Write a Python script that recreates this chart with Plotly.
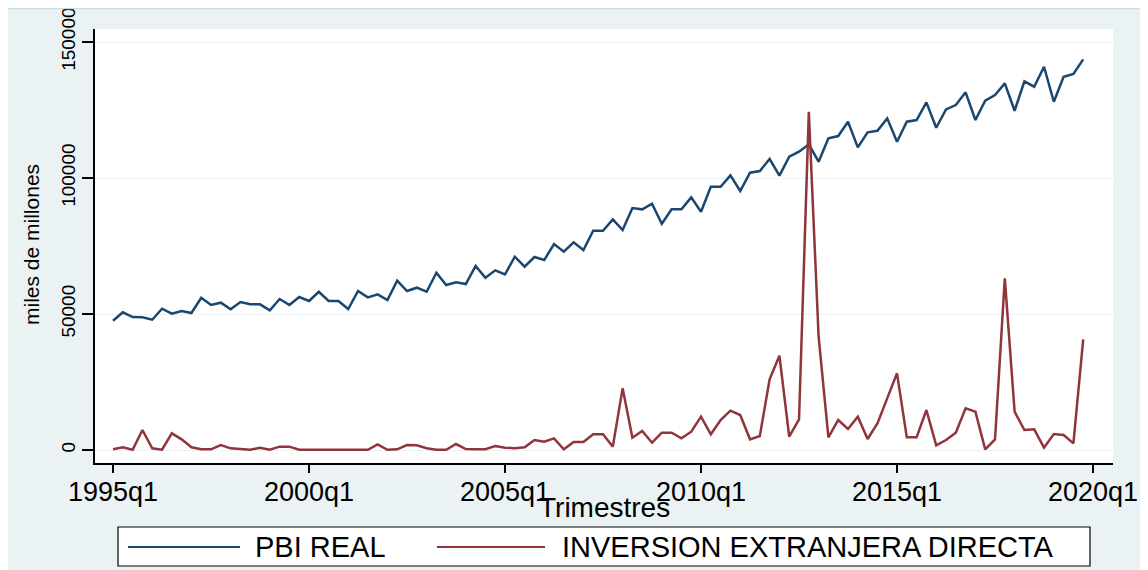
import plotly.graph_objects as go

# ---------------- data ----------------
years = list(range(1995, 2020))
quarters = [f"{y}q{q}" for y in years for q in (1, 2, 3, 4)]
tick_labels = ["1995q1", "2000q1", "2005q1", "2010q1", "2015q1", "2020q1"]
tick_index = [0, 20, 40, 60, 80, 100]
y_ticks = [0, 50000, 100000, 150000]

pbi_real = [
    47530, 50610, 48890, 48780, 47900, 51950, 50110, 51100, 50360, 55990,
    53300, 54150, 51720, 54400, 53560, 53560, 51350, 55510, 53300, 56240,
    54770, 58190, 54770, 54770, 51830, 58450, 56130, 57230, 55140, 62240,
    58450, 59670, 58190, 65180, 60650, 61650, 61020, 67640, 63350, 66050,
    64580, 71060, 67380, 70950, 69840, 75730, 72900, 76350, 73520, 80620,
    80620, 84800, 80870, 88960, 88470, 90540, 83190, 88470, 88470, 92880,
    87600, 96790, 96790, 100980, 95210, 101940, 102560, 106970, 100860, 107820,
    109660, 112380, 105980, 114580, 115430, 120690, 111270, 116790, 117370, 121930,
    113330, 120690, 121310, 127820, 118480, 125240, 126820, 131490, 121310, 128410,
    130500, 134800, 124730, 135540, 133570, 140900, 128040, 137230, 138220, 143620,
]

ied = [
    260, 990, 110, 7350, 620, 100, 6130, 3920, 990, 260,
    260, 1840, 620, 370, 100, 860, 100, 1220, 1220, 100,
    100, 100, 100, 370, 100, 100, 100, 2080, 100, 260,
    1840, 1720, 620, 100, 100, 2200, 370, 260, 260, 1470,
    860, 620, 980, 3680, 3060, 4290, 250, 2940, 2940, 5760,
    5760, 1230, 22670, 4530, 6980, 2690, 6370, 6370, 4290, 6740,
    12250, 5760, 11030, 14460, 12870, 3920, 5150, 25980, 34680, 4900,
    11280, 124370, 41660, 4660, 11030, 7720, 12250, 4040, 9800, 18990,
    28190, 4660, 4660, 14700, 1710, 3680, 6370, 15320, 14090, 250,
    3920, 63110, 14090, 7350, 7600, 860, 5880, 5510, 2450, 40690,
]

series_names = ["PBI REAL", "INVERSION EXTRANJERA DIRECTA"]
x_title = "Trimestres"
y_title = "miles de millones"

# ---------------- style ----------------
NAVY = "#1A476F"
MAROON = "#90353B"
BG = "#EAF2F3"
FONT = "Liberation Sans"

# the page body has an 8px margin, so the figure starts at page (8, 8)
OFF = 8
W, H = 1148 - OFF, 570 - OFF
PL, PR, PT, PB = 95, 1113, 29, 463          # plot area in page pixels
L, R, T, B = PL - OFF, W - (PR - OFF), PT - OFF, H - (PB - OFF)
pw, ph = PR - PL, PB - PT


def px_x(p):
    return (p - PL) / pw


def px_y(p):
    return (PB - p) / ph


x_idx = list(range(len(quarters)))

fig = go.Figure()
fig.add_trace(go.Scatter(x=x_idx, y=pbi_real, mode="lines", name=series_names[0],
                         line=dict(color=NAVY, width=2.5), showlegend=False,
                         text=quarters, hovertemplate="%{text}: %{y}<extra></extra>"))
fig.add_trace(go.Scatter(x=x_idx, y=ied, mode="lines", name=series_names[1],
                         line=dict(color=MAROON, width=2.5), showlegend=False,
                         text=quarters, hovertemplate="%{text}: %{y}<extra></extra>"))

fig.update_layout(
    width=W, height=H,
    margin=dict(l=L, r=R, t=T, b=B, autoexpand=False),
    paper_bgcolor=BG, plot_bgcolor="white",
    font=dict(family=FONT, color="black", size=22),
    xaxis=dict(
        range=[-1.84, 102.04], tickmode="array", tickvals=tick_index, ticktext=tick_labels,
        showgrid=False, zeroline=False, showline=True, linecolor="black", linewidth=1.5,
        ticks="outside", ticklen=8, tickwidth=1.5, tickcolor="black",
        tickfont=dict(size=27, family=FONT), ticklabelstandoff=-4,
        ticklabeloverflow="allow",
    ),
    yaxis=dict(
        range=[-4779, 154779], tickmode="array", tickvals=y_ticks,
        ticktext=[str(v) for v in y_ticks], tickangle=-90,
        showgrid=True, gridcolor=BG, gridwidth=1.2, zeroline=False,
        showline=True, linecolor="black", linewidth=1.5,
        ticks="outside", ticklen=11, tickwidth=1.5, tickcolor="black",
        tickfont=dict(size=19, family=FONT), ticklabeloverflow="allow",
    ),
)

shapes = []
annotations = []

# thin bluish border at the top of the graph region
shapes.append(dict(type="line", xref="paper", yref="paper",
                   x0=px_x(OFF), x1=px_x(1148), y0=px_y(OFF + 0.5), y1=px_y(OFF + 0.5),
                   line=dict(color="#C9DDE6", width=1.5)))

# axis titles
annotations.append(dict(text=x_title, xref="paper", yref="paper",
                        x=px_x(604), y=px_y(507), xanchor="center", yanchor="middle",
                        showarrow=False, font=dict(size=28, family=FONT)))
annotations.append(dict(text=y_title, xref="paper", yref="paper",
                        x=px_x(32), y=px_y(245), xanchor="center", yanchor="middle",
                        textangle=-90, showarrow=False, font=dict(size=21, family=FONT)))

# legend box
shapes.append(dict(type="rect", xref="paper", yref="paper",
                   x0=px_x(118), x1=px_x(1090), y0=px_y(566), y1=px_y(527),
                   fillcolor="white", line=dict(color="black", width=1.2)))
leg_y = 547
for name, color, lx0, lx1, tx in [
    (series_names[0], NAVY, 128, 240, 253),
    (series_names[1], MAROON, 437, 545, 560),
]:
    shapes.append(dict(type="line", xref="paper", yref="paper",
                       x0=px_x(lx0), x1=px_x(lx1), y0=px_y(leg_y), y1=px_y(leg_y),
                       line=dict(color=color, width=2.2)))
    annotations.append(dict(text=name, xref="paper", yref="paper",
                            x=px_x(tx), y=px_y(leg_y), xanchor="left", yanchor="middle",
                            showarrow=False, font=dict(size=29, family=FONT)))

fig.update_layout(shapes=shapes, annotations=annotations)

fig.write_html("out.html")
